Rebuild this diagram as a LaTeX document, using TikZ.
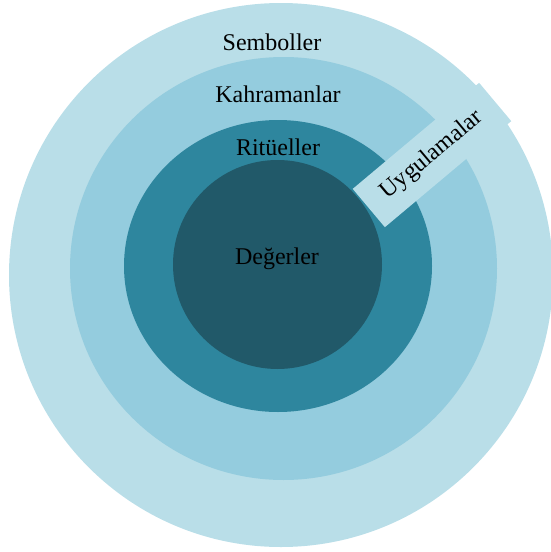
\documentclass[tikz,border=0pt]{standalone}
\usepackage{fontspec}
\setmainfont{Liberation Serif}
\definecolor{ringA}{RGB}{185,222,232}
\definecolor{ringB}{RGB}{148,204,222}
\definecolor{ringC}{RGB}{46,134,158}
\definecolor{ringD}{RGB}{33,89,105}
\tikzset{
  lbl/.style={font=\fontsize{24}{28}\selectfont, text=black, anchor=base, inner sep=0pt},
  layer/.style={fill=#1, draw=none},
  banner/.style={fill=ringA, draw=none, rotate=40, minimum width=165pt, minimum height=50pt,
    inner sep=0pt, font=\fontsize{24}{28}\selectfont, text=black}
}
\begin{document}
\begin{tikzpicture}[x=1pt,y=-1pt]
\useasboundingbox (0,0) rectangle (551,552);
\begin{scope}
\clip (0,0) rectangle (551,552);
\fill[layer=ringA] (281,275) circle (272);
\end{scope}
\fill[layer=ringB] (283.5,268.5) ellipse [x radius=213.5, y radius=211.5];
\fill[layer=ringC] (278,266) ellipse [x radius=154, y radius=146];
\fill[layer=ringD] (277.5,264.5) circle (104.5);
\node[banner] (uyg) at (432,155) {Uygulamalar};
\node[lbl] (sem) at (272,50) {Semboller};
\node[lbl] (kah) at (278,102) {Kahramanlar};
\node[lbl] (rit) at (278,155) {Ritüeller};
\node[lbl] (deg) at (277,264) {Değerler};
\end{tikzpicture}
\end{document}
